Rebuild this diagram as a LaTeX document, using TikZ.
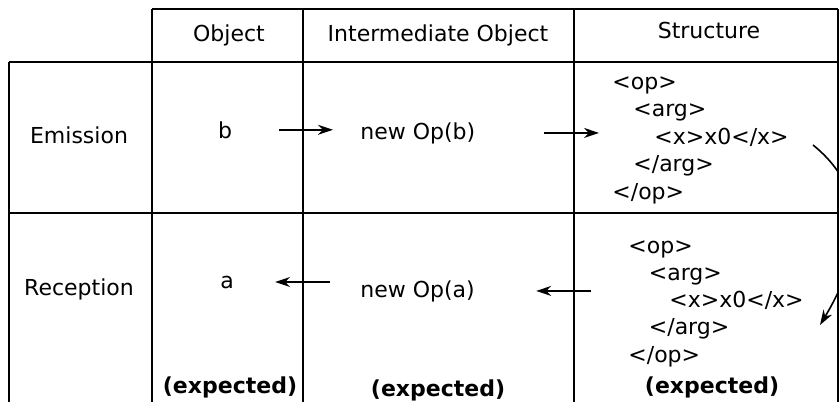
\documentclass[tikz,border=0pt]{standalone}
\usepackage{fontspec}
\setmainfont{DejaVu Sans}
\usepackage{tikz}
\usetikzlibrary{arrows.meta, positioning, calc}
\tikzset{
  cell/.style={inner sep=0pt},
  xmlline/.style={cell, anchor=base west},
  flow/.style={-{Stealth[length=7.5pt, width=5pt]}, line width=0.8pt},
  rule/.style={line width=1.1pt}
}

\begin{document}
\begin{tikzpicture}[x=0.5pt, y=-0.5pt, font=\fontsize{11}{13.75}\selectfont]
  \useasboundingbox (0,0) rectangle (840,402);

  % Table rules
  \draw[rule] (152,9) -- (838,9);
  \draw[rule] (9,62) -- (838,62);
  \draw[rule] (9,213) -- (838,213);
  \foreach \x/\y in {9/62, 152/9, 303/9, 574/9, 838/9}
    \draw[rule] (\x,\y) -- (\x,402);

  % Header
  \node[cell, anchor=base] (hobj) at (229,41) {Object};
  \node[cell, anchor=base] (hinter) at (438,41) {Intermediate Object};
  \node[cell, anchor=base] (hstruct) at (709,38) {Structure};

  % Rows
  \node[cell, anchor=base] (emis) at (79,143) {Emission};
  \node[cell, anchor=base] (recep) at (79,295) {Reception};

  \node[cell, anchor=base] (objb) at (225,138) {b};
  \node[cell, anchor=base west] (opb) at (360,139) {new Op(b)};
  \node[cell, anchor=base] (obja) at (227,288) {a};
  \node[cell, anchor=base west] (opa) at (360,297) {new Op(a)};

  % Structures
  \foreach \l/\t [count=\i] in {0/{<op>}, 1/{<arg>}, 2/{<x>x0</x>}, 1/{</arg>}, 0/{</op>}} {
    \node[xmlline] (es-\i) at ({612+21*\l}, {89+27.5*(\i-1)}) {\t};
    \node[xmlline] (rs-\i) at ({628+20.5*\l}, {253+27.3*(\i-1)}) {\t};
  }

  % Expected
  \node[cell, anchor=base, font=\fontsize{11}{13.75}\selectfont\bfseries] (expobj) at (230,393) {(expected)};
  \node[cell, anchor=base, font=\fontsize{11}{13.75}\selectfont\bfseries] (expinter) at (438,396) {(expected)};
  \node[cell, anchor=base, font=\fontsize{11}{13.75}\selectfont\bfseries] (expstruct) at (712,393) {(expected)};

  % Emission arrows
  \draw[flow, shorten <=23.5pt, shorten >=13.5pt] (objb.east) -- (objb.east -| opb.west);
  \draw[flow, shorten <=34pt, shorten >=27.5pt] (opb.east) -- (opb.east -| es-3.west);

  % Reception arrows
  \draw[flow, shorten <=39pt, shorten >=30.5pt] (opa.east -| rs-3.west) -- (opa.east);
  \draw[flow, shorten <=15pt, shorten >=20.5pt] (opa.west |- obja.east) -- (obja.east);

  % Loop back, hidden beyond the right rule
  \coordinate (bendtop) at (813,145);
  \coordinate (bendbot) at (820,325);
  \begin{scope}
    \clip (790,100) rectangle (837,360);
    \draw[flow] (bendtop) .. controls (875,195) and (858,262) .. (bendbot);
  \end{scope}
\end{tikzpicture}
\end{document}
